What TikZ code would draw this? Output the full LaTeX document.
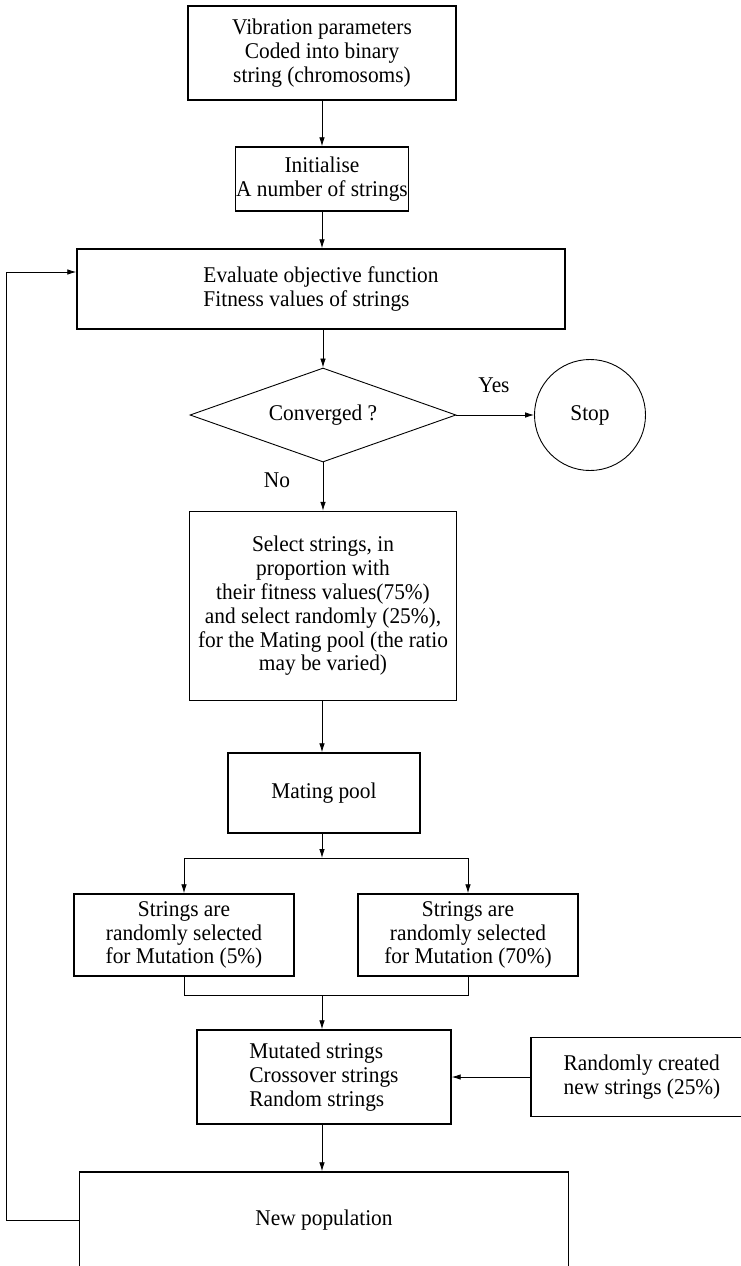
\documentclass[tikz,border=0pt]{standalone}
\usepackage{fontspec}
\setmainfont[FakeStretch=0.95]{Liberation Serif}
\usetikzlibrary{arrows.meta,shapes.geometric}

\begin{document}
\begin{tikzpicture}[
  x=1pt, y=-1pt,
  font=\fontsize{22.5}{23.8}\selectfont,
  >={Latex[length=9pt,width=5.5pt]},
  every node/.style={align=center},
  box/.style={draw, line width=1.4pt, inner sep=0pt},
  cond/.style={draw, diamond, line width=0.9pt, inner sep=0pt, aspect=2.83},
  term/.style={draw, circle, line width=0.9pt, inner sep=0pt},
  lbl/.style={inner sep=1pt},
  arr/.style={->, line width=0.8pt},
  link/.style={line width=0.8pt}
]
\useasboundingbox (0,0) rectangle (740,1266);

% top: coding and initial strings
\node[box, minimum width=268pt, minimum height=94pt] (vib) at (322,53)
  {Vibration parameters\\Coded into binary\\string (chromosoms)};
\node[box, minimum width=173pt, minimum height=64pt] (init) at (322,179)
  {Initialise\\A number of strings};
\node[box, align=left, minimum width=488pt, minimum height=80pt] (eval) at (321,289)
  {Evaluate objective function\\Fitness values of strings};

% test
\node[cond, minimum width=266pt, minimum height=94pt] (conv) at (323,415) {Converged ?};
\node[term, minimum size=111pt] (stop) at (590,415) {Stop};
\node[lbl] (yes) at (494,385) {Yes};
\node[lbl] (no) at (277,480) {No};

% selection
\node[box, minimum width=267pt, minimum height=189pt] (sel) at (323,606)
  {Select strings, in\\proportion with\\their fitness values(75\%)\\and select randomly (25\%),\\for the Mating pool (the ratio\\may be varied)};
\node[box, minimum width=192pt, minimum height=80pt] (pool) at (324,793) {Mating pool};
\coordinate (split) at (322,858);

% mutation branches
\node[box, minimum width=220pt, minimum height=82pt] (mutl) at (184,935)
  {Strings are\\randomly selected\\for Mutation (5\%)};
\node[box, minimum width=220pt, minimum height=82pt] (mutr) at (468,935)
  {Strings are\\randomly selected\\for Mutation (70\%)};
\coordinate (merge) at (322,995);

% new population
\node[box, align=left, minimum width=254pt, minimum height=94pt] (mixed) at (324,1077)
  {Mutated strings\\Crossover strings\\Random strings};
\node[box, align=left, minimum width=222pt, minimum height=79pt] (rand) at (642,1077)
  {Randomly created\\new strings (25\%)};
\node[box, minimum width=489pt, minimum height=96pt] (newpop) at (324,1220) {New population};
\coordinate (back) at (6,1220);

\draw[arr] (vib) -- (init);
\draw[arr] (init) -- (init |- eval.north);
\draw[arr] (eval.south -| conv.north) -- (conv);
\draw[arr] (conv) -- (stop);
\draw[arr] (conv) -- (conv |- sel.north);
\draw[arr] (sel.south -| split) -- (split |- pool.north);
\draw[arr] (pool.south -| split) -- (split);
\draw[arr] (split) -| (mutl);
\draw[arr] (split) -| (mutr);
\draw[link] (mutl) |- (merge);
\draw[link] (mutr) |- (merge);
\draw[arr] (merge) -- (merge |- mixed.north);
\draw[arr] (rand) -- (mixed);
\draw[arr] (mixed.south -| split) -- (split |- newpop.north);
\draw[arr] (newpop) -- (back) |- ([yshift=17pt]eval.west);
\end{tikzpicture}
\end{document}
